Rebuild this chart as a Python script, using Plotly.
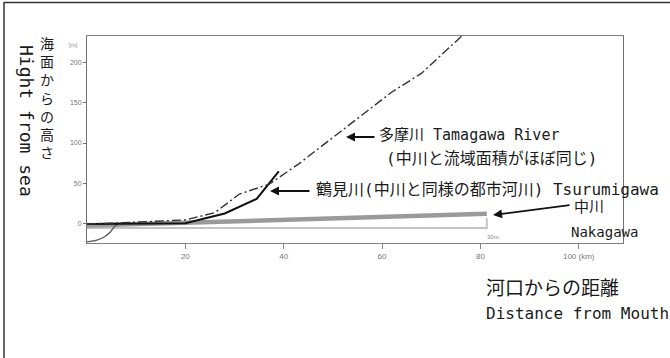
import plotly.graph_objects as go

# ---- data (distance from mouth [km], height above sea [m]) ----
tama_km = [0, 5, 20, 26, 31, 37, 43, 50, 56, 62, 68, 76, 80]
tama_m = [0, 1, 5, 14, 37, 49, 74, 107, 135, 163, 186, 231, 262]

tsuru_km = [0, 20, 28, 34.5, 39]
tsuru_m = [0, 1, 13, 31, 65]

mouth_km = [0, 2, 3.5, 4.8, 5.8, 6.5]
mouth_m = [-22, -20, -16, -9.5, -2, 0]

naka_km = [0, 81.3]
naka_m = [-2, 12.5]

naka_base_km = [0, 81.3, 81.3]
naka_base_m = [-5, -5, 7.5]

x_ticks = [20, 40, 60, 80, 100]
x_ticklabels = ["20", "40", "60", "80", "100 (km)"]
y_ticks = [0, 50, 100, 150, 200]
y_ticklabels = ["0", "50", "100", "150", "200"]

# ---- layout geometry (plot area in pixels) ----
W, H = 670, 358
L, R, T, B = 87, 623, 36, 243


def px(x):
    return (x - L) / (R - L)


def py(y):
    return (B - y) / (B - T)


MONO = "DejaVu Sans Mono, Noto Sans CJK JP"
CJK = "Noto Sans CJK JP"

fig = go.Figure()
fig.add_trace(go.Scatter(x=naka_base_km, y=naka_base_m, mode="lines",
                         line=dict(color="#c4c4c4", width=2), hoverinfo="skip"))
fig.add_trace(go.Scatter(x=naka_km, y=naka_m, mode="lines",
                         line=dict(color="#9a9a9a", width=4.5), hoverinfo="skip"))
fig.add_trace(go.Scatter(x=mouth_km, y=mouth_m, mode="lines", line_shape="spline",
                         line=dict(color="#555555", width=1.3), hoverinfo="skip"))
fig.add_trace(go.Scatter(x=tsuru_km, y=tsuru_m, mode="lines",
                         line=dict(color="#111111", width=2), hoverinfo="skip"))
fig.add_trace(go.Scatter(x=tama_km, y=tama_m, mode="lines",
                         line=dict(color="#333333", width=1.4, dash="9px,3px,2px,3px"),
                         hoverinfo="skip"))

fig.update_xaxes(range=[0, 109], tickvals=x_ticks, ticktext=x_ticklabels,
                 ticks="outside", ticklen=5, tickcolor="#888", showgrid=False,
                 zeroline=False, showline=True, mirror=True, linecolor="#808080",
                 linewidth=1, tickfont=dict(family="Liberation Sans", size=8, color="#777"))
fig.update_yaxes(range=[-23.5, 232.2], tickvals=y_ticks, ticktext=y_ticklabels,
                 ticks="outside", ticklen=3, tickcolor="#777", showgrid=False,
                 zeroline=False, showline=True, mirror=True, linecolor="#707070",
                 linewidth=1, tickfont=dict(family="Liberation Sans", size=7, color="#777"))

ann = []


def text(x, y, s, size, family=MONO, xanchor="left", angle=0, color="#1a1a1a"):
    ann.append(dict(xref="paper", yref="paper", x=px(x), y=py(y), text=s,
                    showarrow=False, xanchor=xanchor, yanchor="middle",
                    textangle=angle, font=dict(family=family, size=size, color=color)))


def arrow(x_tip, y_tip, x_tail, y_tail):
    ann.append(dict(xref="paper", yref="paper", x=px(x_tip), y=py(y_tip),
                    axref="pixel", ayref="pixel", ax=x_tail - x_tip, ay=y_tail - y_tip,
                    text="", showarrow=True, arrowhead=2, arrowsize=1,
                    arrowwidth=1.8, arrowcolor="#111"))


text(377, 135, "多摩川 Tamagawa River", 15)
text(384, 158, "(中川と流域面積がほぼ同じ)", 16)
text(314, 189, "鶴見川(中川と同様の都市河川) Tsurumigawa", 16)
text(572, 207, "中川", 15)
text(569, 232, "Nakagawa", 14)
text(484, 286, "河口からの距離", 19, family=CJK)
text(484, 313, "Distance from Mouth", 16)
text(27, 121, "Hight from sea", 18, xanchor="center", angle=90)
text(47, 97, "<br>".join("海面からの高さ"), 14, family=CJK, xanchor="center")
text(67, 45, "[m]", 6, family="Liberation Sans", color="#888")
text(485, 237, "30m", 6, family="Liberation Sans", color="#888")

arrow(346, 137, 376, 137)
arrow(270, 191, 311, 191)
arrow(493, 215, 571, 205)

shapes = [
    dict(type="line", xref="paper", yref="paper", x0=px(4), x1=px(4), y0=py(2), y1=py(H),
         line=dict(color="#333", width=1.5)),
    dict(type="line", xref="paper", yref="paper", x0=px(4), x1=px(W), y0=py(2.5), y1=py(2.5),
         line=dict(color="#333", width=1.5)),
]

fig.update_layout(width=W, height=H, margin=dict(l=L, r=W - R, t=T, b=H - B),
                  paper_bgcolor="white", plot_bgcolor="white", showlegend=False,
                  annotations=ann, shapes=shapes)

fig.write_html("out.html", config={"displayModeBar": False},
               post_script="document.body.style.margin='0';document.body.style.overflow='hidden';")
